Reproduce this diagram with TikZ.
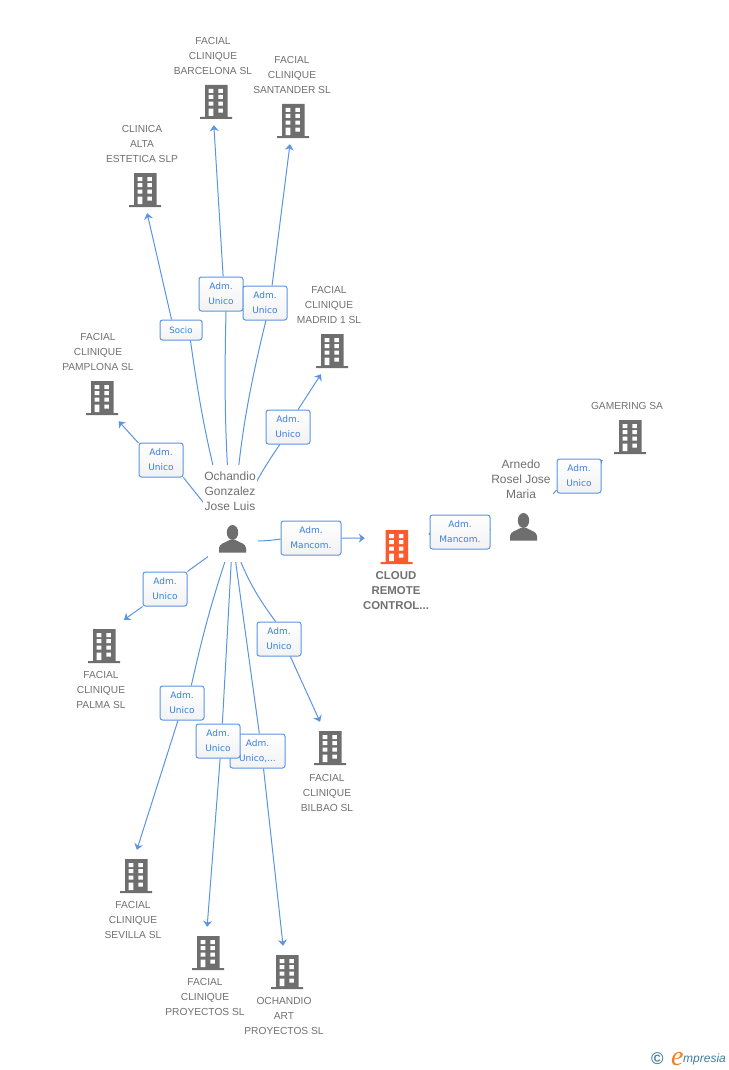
\documentclass[tikz,border=0pt]{standalone}
\usepackage{fontspec}
\setmainfont{Liberation Sans}
\newfontfamily\badgefont{DejaVu Sans}
\newfontfamily\logofont{Liberation Serif}
\usetikzlibrary{arrows.meta,backgrounds}
\definecolor{linkblue}{HTML}{5A94E2}
\definecolor{badgeblue}{HTML}{3A7FDC}
\definecolor{icongray}{HTML}{6E6E6E}
\definecolor{iconorange}{HTML}{FF5A2C}
\definecolor{labelgray}{HTML}{707070}
\definecolor{logoteal}{HTML}{3F7F98}
\definecolor{logoorange}{HTML}{F08020}
\begin{document}
\begin{tikzpicture}[x=1pt,y=-1pt,>={Stealth[length=6pt,width=9pt]},line join=round,
  link/.style={draw=linkblue,line width=1pt},
  badge/.style={draw=linkblue,line width=1pt,rounded corners=2.5pt,top color=white,bottom color=black!5,text=badgeblue,align=center,inner sep=0pt,minimum height=34pt,minimum width=44pt,font=\badgefont\fontsize{9}{15}\selectfont},
  caption/.style={text=labelgray,align=center,inner sep=0pt,font=\fontsize{10.2}{15}\selectfont},
  who/.style={caption,fill=white,inner xsep=1pt,inner ysep=7pt,font=\fontsize{12}{15}\selectfont},
  company/.style={minimum width=54pt,minimum height=49pt,inner sep=0pt,path picture={
    \begin{scope}[shift={(path picture bounding box.center)}]
    \fill[#1] (-11,-15.5) rectangle (11.5,16.5) (-16,16.5) rectangle (16,18.5);
    \foreach \wy in {-11.5,-5.5,1.2} \fill[white] (-7.3,\wy) rectangle +(4.6,4) (2.3,\wy) rectangle +(4.6,4);
    \fill[white] (-7.3,8.2) rectangle (-2.7,15.5) (2.3,8.2) rectangle (6.9,12.2);
    \end{scope}}},
  company/.default=icongray,
  person/.style={fill=white,minimum width=50pt,minimum height=46pt,inner sep=0pt,path picture={
    \begin{scope}[shift={(path picture bounding box.center)}]
    \fill[icongray] (0,-6.5) ellipse (5.7 and 7.5);
    \fill[icongray] (-13.5,13.5) -- (-13.5,9) .. controls (-13,4.5) and (-8,4) .. (-3,1) -- (3,1) .. controls (8,4) and (13,4.5) .. (13.5,9) -- (13.5,13.5) -- cycle;
    \end{scope}}}]
\useasboundingbox (0,0) rectangle (728,1070);
% companies
\node[company] (barcelona) at (216,100.5) {};
\node[company] (santander) at (293,119.5) {};
\node[company] (clinica) at (145,188.5) {};
\node[company] (madrid) at (332,349.5) {};
\node[company] (pamplona) at (102,396.5) {};
\node[company] (gamering) at (630,435.5) {};
\node[company=iconorange,minimum width=63pt] (cloud) at (396.5,545.5) {};
\node[company] (palma) at (104,644.5) {};
\node[company] (bilbao) at (330,746.5) {};
\node[company] (sevilla) at (136,874.5) {};
\node[company] (proyectos) at (208,951.5) {};
\node[company] (ochandioart) at (287,970.5) {};
% people
\node[person] (ochandio) at (232.5,539) {};
\node[person,minimum width=66pt] (arnedo) at (523.5,527) {};
% labels
\node[caption] (lbarcelona) at (213,56) {FACIAL\\CLINIQUE\\BARCELONA SL};
\node[caption] (lsantander) at (292,75) {FACIAL\\CLINIQUE\\SANTANDER SL};
\node[caption] (lclinica) at (142,144) {CLINICA\\ALTA\\ESTETICA SLP};
\node[caption] (lmadrid) at (329,305) {FACIAL\\CLINIQUE\\MADRID 1 SL};
\node[caption] (lpamplona) at (98,352) {FACIAL\\CLINIQUE\\PAMPLONA SL};
\node[caption] (lgamering) at (627,406) {GAMERING SA};
\node[caption,font=\bfseries\fontsize{11.4}{15}\selectfont] (lcloud) at (396,590.5) {CLOUD\\REMOTE\\CONTROL...};
\node[caption] (lpalma) at (101,690) {FACIAL\\CLINIQUE\\PALMA SL};
\node[caption] (lbilbao) at (327,793) {FACIAL\\CLINIQUE\\BILBAO SL};
\node[caption] (lsevilla) at (133,920) {FACIAL\\CLINIQUE\\SEVILLA SL};
\node[caption] (lproyectos) at (205,997) {FACIAL\\CLINIQUE\\PROYECTOS  SL};
\node[caption] (lochandioart) at (284,1016) {OCHANDIO\\ART\\PROYECTOS SL};
\node[who] (lochandio) at (230,491) {Ochandio\\Gonzalez\\Jose Luis};
\node[who,minimum width=64pt] (larnedo) at (521,479) {Arnedo\\Rosel Jose\\Maria};
% badges
\node[badge] (bpamplona) at (161,460) {Adm.\\Unico};
\node[badge,minimum width=42pt,minimum height=20pt] (bclinica) at (181,330) {\fontsize{8.6}{15}\selectfont Socio};
\node[badge] (bbarcelona) at (221,294) {Adm.\\Unico};
\node[badge] (bsantander) at (265,303) {Adm.\\Unico};
\node[badge] (bmadrid) at (288,427) {Adm.\\Unico};
\node[badge,minimum width=60pt] (bcloud) at (311,538) {Adm.\\Mancom.};
\node[badge,minimum width=60pt] (barnedo) at (460,532) {Adm.\\Mancom.};
\node[badge] (bgamering) at (579,476) {Adm.\\Unico};
\node[badge] (bpalma) at (165,589) {Adm.\\Unico};
\node[badge] (bsevilla) at (182,703) {Adm.\\Unico};
\node[badge,minimum width=55pt] (bochandioart) at (257.5,751) {Adm.\\Unico,...};
\node[badge] (bproyectos) at (218,741) {Adm.\\Unico};
\node[badge] (bbilbao) at (279,639) {Adm.\\Unico};
% logo
\node[inner sep=0pt,text=logoteal,font=\bfseries\fontsize{17}{17}\selectfont] (copyright) at (657.5,1059) {©};
\node[inner sep=0pt,anchor=base west,text=logoorange,font=\logofont\itshape\fontsize{28}{28}\selectfont] (logoe) at (671,1065) {e};
\node[inner sep=0pt,anchor=base west,text=logoteal,font=\itshape\fontsize{12}{15}\selectfont] (logo) at (683,1062) {mpresia};
% links
\begin{scope}[on background layer]
\foreach \p/\b/\i/\m/\a/\t/\e in {
  ochandio/bpamplona/322/0/143/pamplona/304,
  ochandio/bclinica/312/4/132/clinica/275,
  ochandio/bbarcelona/286/3/83/barcelona/265,
  ochandio/bsantander/273/5/68/santander/263,
  ochandio/bmadrid/245/8/60/madrid/246,
  ochandio/bcloud/182/-8/0/cloud/167,
  arnedo/barnedo/center/0/center/cloud/20,
  arnedo/bgamering/212/0/center/gamering/222,
  ochandio/bpalma/38/0/218/palma/51,
  ochandio/bsevilla/62/-3/257/sevilla/88,
  ochandio/bproyectos/76/0/277/proyectos/92,
  ochandio/bochandioart/84/0/289/ochandioart/99,
  ochandio/bbilbao/101/-9/303/bilbao/112}{
  \draw[link] (\p.center) to[bend left=\m] (\b.\i);
  \draw[link,->] (\b.\a) -- (\t.\e);
}
\end{scope}
\end{tikzpicture}
\end{document}
